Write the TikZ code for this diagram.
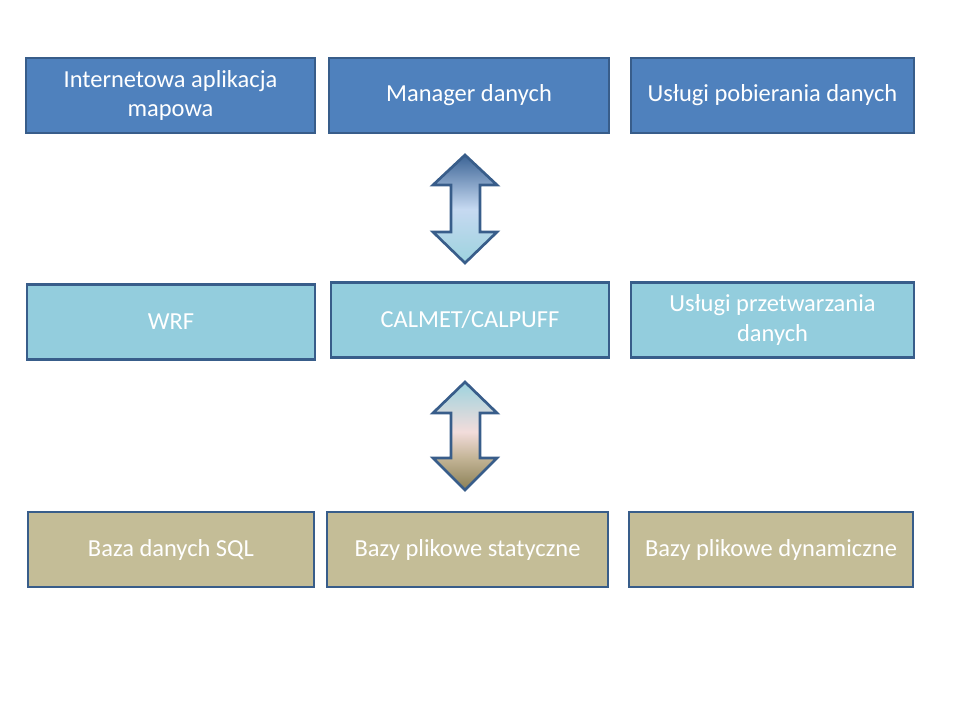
\documentclass[tikz,border=0pt]{standalone}
\usepackage{fontspec}
\setmainfont{Carlito}
\usepackage{tikz}
\usetikzlibrary{positioning}

\definecolor{topfill}{HTML}{4F81BD}
\definecolor{midfill}{HTML}{93CDDD}
\definecolor{lowfill}{HTML}{C4BD97}
\definecolor{edgeblue}{HTML}{385D8A}
\definecolor{arrowdark}{HTML}{3C6496}
\definecolor{arrowpale}{HTML}{C6D9F1}
\definecolor{arrowcyan}{HTML}{9DD3DE}
\definecolor{arrowpink}{HTML}{F2DCDB}
\definecolor{arrowtan}{HTML}{C4B597}
\definecolor{arrowolive}{HTML}{8A7F55}

\pgfdeclareverticalshading{bidirup}{100bp}{color(0bp)=(arrowcyan); color(25bp)=(arrowcyan); color(50bp)=(arrowpale); color(75bp)=(arrowdark); color(100bp)=(arrowdark)}
\pgfdeclareverticalshading{bidirdown}{100bp}{color(0bp)=(arrowolive); color(25bp)=(arrowolive); color(40bp)=(arrowtan); color(52bp)=(arrowpink); color(75bp)=(arrowcyan); color(100bp)=(arrowcyan)}

\begin{document}
\begin{tikzpicture}[
    x=0.025cm, y=-0.025cm,
    font=\fontsize{17.4}{21}\selectfont,
    layer/.style={draw=edgeblue, line width=1.6pt, minimum height=1.875cm, text=white, align=center, inner sep=2pt},
    bidir/.style={draw=edgeblue, line width=1.9pt, line join=miter}
]
\useasboundingbox (0,0) rectangle (960,720);

% warstwa prezentacji
\node[layer, fill=topfill, minimum width=7.225cm] (app) at (170.5,95.5) {Internetowa aplikacja\\mapowa};
\node[layer, fill=topfill, minimum width=7.0cm] (manager) at (469,95.5) {Manager danych};
\node[layer, fill=topfill, minimum width=7.075cm] (pobieranie) at (772.5,95.5) {Usługi pobierania danych};

% warstwa obliczeniowa
\node[layer, fill=midfill, minimum width=7.2cm] (wrf) at (171,322) {WRF};
\node[layer, fill=midfill, minimum width=6.95cm] (calmet) at (470,320) {CALMET/CALPUFF};
\node[layer, fill=midfill, minimum width=7.075cm] (przetwarzanie) at (772.5,320) {Usługi przetwarzania\\danych};

% warstwa danych
\node[layer, fill=lowfill, minimum width=7.15cm] (sql) at (171,549.5) {Baza danych SQL};
\node[layer, fill=lowfill, minimum width=7.025cm] (statyczne) at (467.5,549.5) {Bazy plikowe statyczne};
\node[layer, fill=lowfill, minimum width=7.1cm] (dynamiczne) at (771,549.5) {Bazy plikowe dynamiczne};

% strzalki dwukierunkowe
\shade[shading=bidirup]
  (465,155) -- (433,185) -- (451,185) -- (451,232) -- (433,232) -- (465,263)
  -- (497,232) -- (480,232) -- (480,185) -- (497,185) -- cycle;
\draw[bidir]
  (465,155) -- (433,185) -- (451,185) -- (451,232) -- (433,232) -- (465,263)
  -- (497,232) -- (480,232) -- (480,185) -- (497,185) -- cycle;

\shade[shading=bidirdown]
  (465,382) -- (433,413) -- (451,413) -- (451,458) -- (433,458) -- (465,490)
  -- (497,458) -- (480,458) -- (480,413) -- (497,413) -- cycle;
\draw[bidir]
  (465,382) -- (433,413) -- (451,413) -- (451,458) -- (433,458) -- (465,490)
  -- (497,458) -- (480,458) -- (480,413) -- (497,413) -- cycle;
\end{tikzpicture}
\end{document}
